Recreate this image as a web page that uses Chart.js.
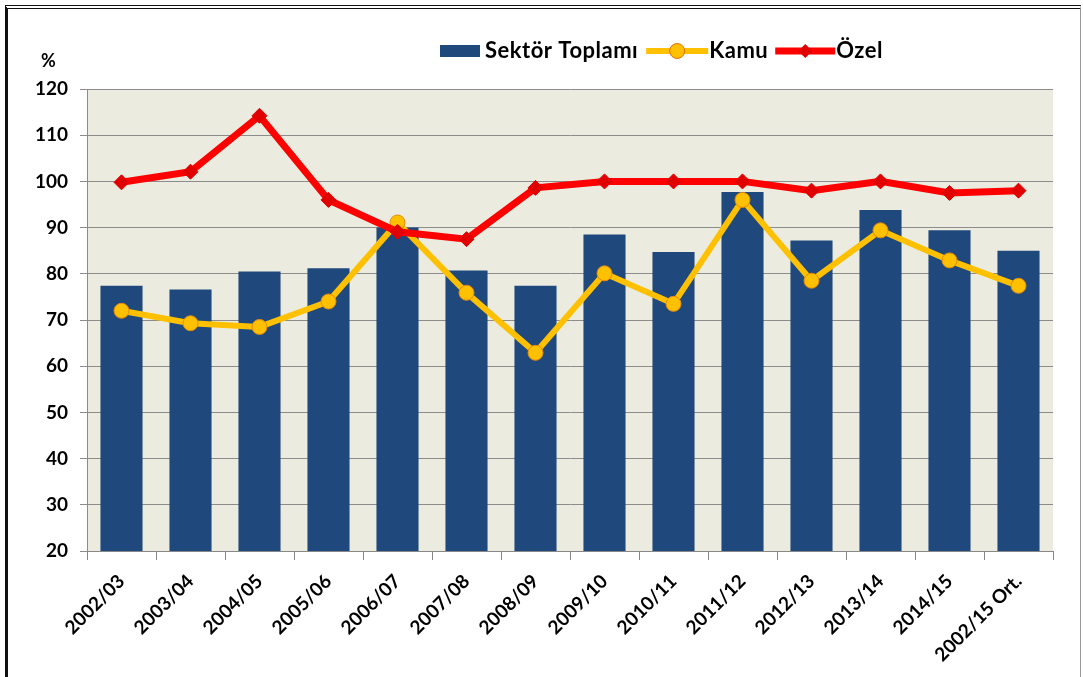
<!DOCTYPE html>
<html>
<head>
<meta charset="utf-8">
<script src="https://cdn.jsdelivr.net/npm/chart.js@4"></script>
<style>
    body { margin: 0; background: #fff; }
    #wrap { position: relative; width: 1083px; height: 677px; }
    #frame {
        position: absolute; left: 5px; top: 5px; width: 1072px; height: 680px;
        border-top: 4px double #111; border-left: 3px solid #111; border-right: 1px solid #999;
        pointer-events: none;
    }
    canvas { position: absolute; left: 0; top: 0; }
</style>
</head>
<body>
<div id="wrap">
    <canvas id="chart" width="1083" height="677"></canvas>
    <div id="frame"></div>
</div>
<script>
const categories = ['2002/03', '2003/04', '2004/05', '2005/06', '2006/07', '2007/08', '2008/09',
    '2009/10', '2010/11', '2011/12', '2012/13', '2013/14', '2014/15', '2002/15 Ort.'];
const sektorToplami = [77.4, 76.6, 80.5, 81.2, 90.0, 80.7, 77.4, 88.5, 84.7, 97.7, 87.2, 93.8, 89.4, 85.0];
const kamu = [72.0, 69.3, 68.5, 74.0, 91.1, 75.9, 62.9, 80.1, 73.5, 96.0, 78.5, 89.4, 82.9, 77.4];
const ozel = [99.8, 102.1, 114.2, 96.0, 89.1, 87.5, 98.6, 100.0, 100.0, 100.0, 98.0, 100.0, 97.5, 98.0];
const seriesNames = ['Sektör Toplamı', 'Kamu', 'Özel'];
const yTicks = [20, 30, 40, 50, 60, 70, 80, 90, 100, 110, 120];

const FONT = 'Lato, "Open Sans", sans-serif';
const BLUE = '#1F497D';
const GOLD = '#FFC000';
const RED = '#FF0000';

// plot background + "%" label + legend
const decorPlugin = {
    id: 'decor',
    beforeDraw(chart) {
        const { ctx, chartArea: a } = chart;
        ctx.save();
        ctx.fillStyle = '#EBECDF';
        ctx.fillRect(a.left, a.top, a.right - a.left, a.bottom - a.top);
        ctx.restore();
    },
    afterDraw(chart) {
        const ctx = chart.ctx;
        ctx.save();
        ctx.fillStyle = '#000';
        ctx.font = 'bold 18px ' + FONT;
        ctx.textBaseline = 'middle';
        ctx.fillText('%', 41, 61);

        ctx.font = 'bold 22px ' + FONT;
        ctx.letterSpacing = '0.5px';
        let x = 440;
        const y = 51;
        // bar symbol
        ctx.fillStyle = BLUE;
        ctx.fillRect(x, y - 6, 40, 12);
        x += 45;
        ctx.fillStyle = '#000';
        ctx.fillText(seriesNames[0], x, y);
        x += ctx.measureText(seriesNames[0]).width + 8;
        // kamu symbol
        ctx.strokeStyle = GOLD; ctx.lineWidth = 6;
        ctx.beginPath(); ctx.moveTo(x, y); ctx.lineTo(x + 62, y); ctx.stroke();
        ctx.beginPath(); ctx.arc(x + 31, y, 7.5, 0, Math.PI * 2);
        ctx.fillStyle = GOLD; ctx.fill();
        ctx.lineWidth = 1; ctx.strokeStyle = '#E46C0A'; ctx.stroke();
        x += 63;
        ctx.fillStyle = '#000';
        ctx.fillText(seriesNames[1], x, y);
        x += ctx.measureText(seriesNames[1]).width + 7;
        // ozel symbol
        ctx.strokeStyle = RED; ctx.lineWidth = 7;
        ctx.beginPath(); ctx.moveTo(x, y); ctx.lineTo(x + 60, y); ctx.stroke();
        ctx.fillStyle = '#E00000';
        ctx.beginPath();
        ctx.moveTo(x + 30, y - 7); ctx.lineTo(x + 37, y); ctx.lineTo(x + 30, y + 7); ctx.lineTo(x + 23, y);
        ctx.closePath(); ctx.fill();
        x += 61;
        ctx.fillStyle = '#000';
        ctx.fillText(seriesNames[2], x, y);
        ctx.restore();
    }
};

new Chart(document.getElementById('chart'), {
    data: {
        labels: categories,
        datasets: [
            {
                type: 'line',
                label: seriesNames[2],
                data: ozel,
                order: 1,
                borderColor: RED,
                borderWidth: 7,
                pointStyle: 'rectRot',
                pointRadius: 7.5,
                pointBackgroundColor: '#E00000',
                pointBorderColor: '#E00000',
                pointBorderWidth: 1,
                tension: 0
            },
            {
                type: 'line',
                label: seriesNames[1],
                data: kamu,
                order: 2,
                borderColor: GOLD,
                borderWidth: 6,
                pointStyle: 'circle',
                pointRadius: 7.5,
                pointBackgroundColor: GOLD,
                pointBorderColor: '#E48A0A',
                pointBorderWidth: 1,
                tension: 0
            },
            {
                type: 'bar',
                label: seriesNames[0],
                data: sektorToplami,
                order: 3,
                backgroundColor: BLUE,
                categoryPercentage: 1,
                barPercentage: 0.61
            }
        ]
    },
    options: {
        responsive: false,
        animation: false,
        layout: { padding: { top: 89, right: 30, left: 0, bottom: 0 } },
        plugins: {
            legend: { display: false },
            tooltip: { enabled: false }
        },
        scales: {
            x: {
                offset: true,
                grid: {
                    offset: true,
                    drawOnChartArea: false,
                    color: '#888',
                    tickLength: 9
                },
                border: { color: '#888' },
                ticks: {
                    color: '#000',
                    font: { family: FONT, weight: 'bold', size: 19 },
                    minRotation: 45,
                    maxRotation: 45,
                    autoSkip: false,
                    padding: 10
                },
                afterFit(scale) { scale.height = 126; }
            },
            y: {
                min: 20,
                max: 120,
                afterBuildTicks(scale) { scale.ticks = yTicks.map(v => ({ value: v })); },
                grid: { color: '#8C8C8C', tickLength: 7 },
                border: { color: '#8C8C8C' },
                ticks: {
                    color: '#000',
                    font: { family: FONT, weight: 'bold', size: 19 },
                    padding: 12
                },
                afterFit(scale) { scale.width = 87; }
            }
        }
    },
    plugins: [decorPlugin]
});
</script>
</body>
</html>
